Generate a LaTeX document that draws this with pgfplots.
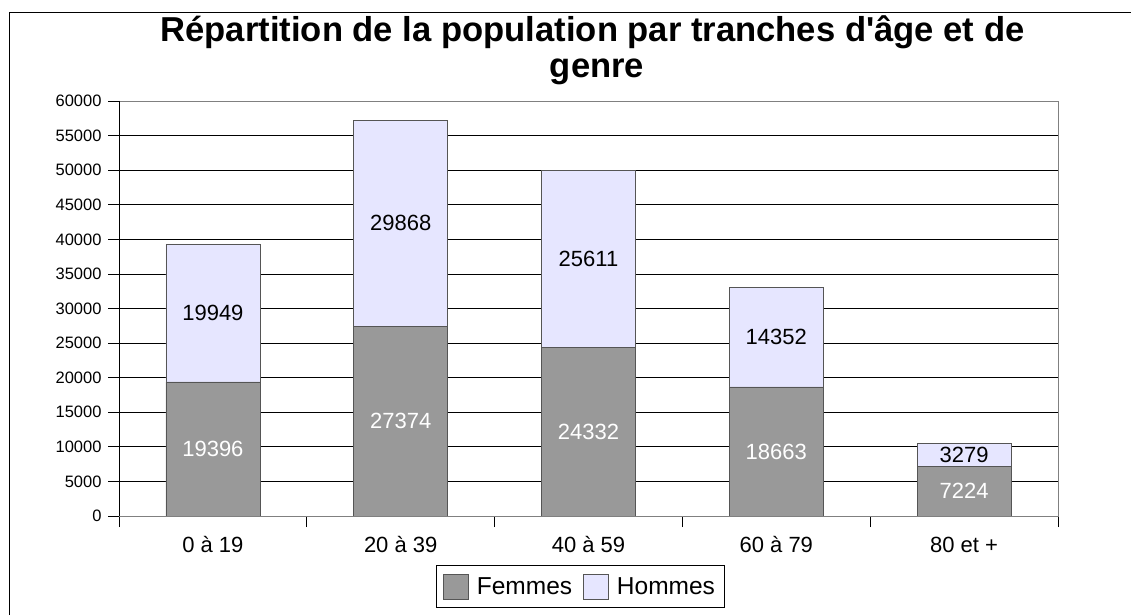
\documentclass[border=0pt]{standalone}
\usepackage{pgfplots}
\pgfplotsset{compat=1.18}
\usepackage{pgfplotstable}
\usepackage{fontspec}
\setmainfont{Liberation Sans}[Ligatures=TeXOff]
\definecolor{femmes}{HTML}{999999}
\definecolor{hommes}{HTML}{E6E6FF}
\definecolor{edge}{HTML}{555555}
\pgfplotstableread{
x F H
0 19396 19949
1 27374 29868
2 24332 25611
3 18663 14352
4 7224 3279
}\data
\pgfplotsset{frame/.style={at={(119pt,99pt)}, anchor=south west, scale only axis,
  width=939pt, height=415pt, xmin=-0.5, xmax=4.5, ymin=0, ymax=60000}}
\begin{document}
\begin{tikzpicture}[x=1pt,y=1pt]
\useasboundingbox (0,0) rectangle (1131,615);
\draw[line width=1pt] (9,0) -- (9,602) -- (1131,602);
\node[font=\bfseries\fontsize{34.6}{40}\selectfont, anchor=base, inner sep=0pt] at (592.5,573) {Répartition de la population par tranches d'âge et de};
\node[font=\bfseries\fontsize{34.6}{40}\selectfont, anchor=base, inner sep=0pt] at (597,537) {genre};
\begin{axis}[
  frame,
  ybar stacked, bar width=0.5,
  ytick={0,5000,...,60000},
  scaled y ticks=false,
  xtick={-0.5,0.5,...,4.5}, xticklabels={,,,,,},
  extra x ticks={0,1,2,3,4},
  extra x tick labels={0 à 19,20 à 39,40 à 59,60 à 79,80 et +},
  extra x tick style={major tick length=0pt, xticklabel style={anchor=base, yshift=-36pt}},
  tick align=outside, tick pos=left,
  major tick length=11pt,
  tick style={black, line width=0.8pt},
  ymajorgrids, major grid style={black, line width=0.8pt},
  axis line style={draw=gray, line width=0.8pt},
  y tick label style={font=\fontsize{16.5}{19}\selectfont, xshift=-3pt, /pgf/number format/1000 sep={}, /pgf/number format/fixed, /pgf/number format/assume math mode=true},
  x tick label style={font=\fontsize{22}{26}\selectfont},
  legend columns=2,
  legend style={at={(0.491,-0.170)}, anchor=center, draw=black, line width=0.8pt,
    font=\fontsize{24.5}{28}\selectfont, inner xsep=7pt, inner ysep=8pt,
    /tikz/every odd column/.append style={column sep=6pt},
    /tikz/every even column/.append style={column sep=9pt}},
]
\addplot[fill=femmes, draw=edge, line width=0.6pt,
  area legend,
  legend image code/.code={\draw[fill=femmes, draw=edge, line width=0.8pt] (0pt,-12.5pt) rectangle (25pt,12.5pt);}]
  table[x=x, y=F] {\data};
\addlegendentry{Femmes}
\addplot[fill=hommes, draw=edge, line width=0.6pt,
  area legend,
  legend image code/.code={\draw[fill=hommes, draw=edge, line width=0.8pt] (0pt,-12.5pt) rectangle (25pt,12.5pt);}]
  table[x=x, y=H] {\data};
\addlegendentry{Hommes}
\draw[black, line width=0.8pt] (rel axis cs:0,1) -- (rel axis cs:0,0) -- (rel axis cs:1,0);
\end{axis}
\begin{axis}[
  frame, hide axis,
  point meta=explicit symbolic,
  nodes near coords,
  every node near coord/.append style={anchor=center, font=\fontsize{22}{26}\selectfont},
]
\addplot[draw=none, mark=none, nodes near coords, every node near coord/.append style={text=white}]
  table[x=x, y expr=\thisrow{F}/2, meta=F] {\data};
\addplot[draw=none, mark=none, nodes near coords, every node near coord/.append style={text=black}]
  table[x=x, y expr=\thisrow{F}+\thisrow{H}/2, meta=H] {\data};
\end{axis}
\end{tikzpicture}
\end{document}
